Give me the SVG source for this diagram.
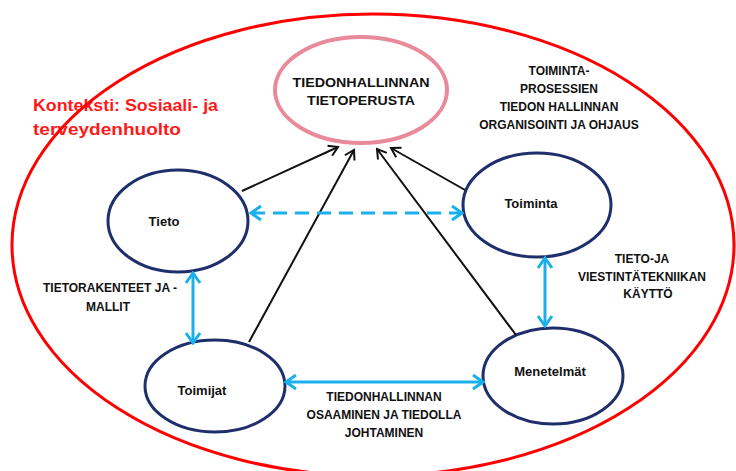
<svg xmlns="http://www.w3.org/2000/svg" width="736" height="471" viewBox="0 0 736 471">
<style>
.node{fill:#fff;stroke:#1f2f6b;stroke-width:3}
.lbl{font-family:"Liberation Sans",Arial,sans-serif;font-weight:bold;font-size:12px;fill:#111;text-anchor:middle}
.nl{font-family:"Liberation Sans",Arial,sans-serif;font-weight:bold;font-size:13px;fill:#111;text-anchor:middle}
.ctx{font-family:"Liberation Sans",Arial,sans-serif;font-weight:bold;font-size:17px;fill:#ff1a1a}
.blk{stroke:#111;stroke-width:2;fill:none;marker-end:url(#ak)}
.blu{stroke:#19b0ec;stroke-width:3;fill:none;marker-start:url(#ab);marker-end:url(#ab)}
</style>
<defs>
<marker id="ak" viewBox="-12 -8 14 16" markerWidth="14" markerHeight="16" refX="0" refY="0" orient="auto" markerUnits="userSpaceOnUse">
<path d="M-9,-5.5 L0,0 L-9,5.5" fill="none" stroke="#111" stroke-width="2"/>
</marker>
<marker id="ab" viewBox="-14 -10 16 20" markerWidth="16" markerHeight="20" refX="0" refY="0" orient="auto-start-reverse" markerUnits="userSpaceOnUse">
<path d="M-10,-7 L0,0 L-10,7" fill="none" stroke="#19b0ec" stroke-width="3"/>
</marker>
</defs>
<rect width="736" height="471" fill="#fff"/>
<g id="context-label">
<text class="ctx" x="33" y="111" textLength="185" lengthAdjust="spacingAndGlyphs">Konteksti: Sosiaali- ja</text>
<text class="ctx" x="33" y="135" textLength="148" lengthAdjust="spacingAndGlyphs">terveydenhuolto</text>
</g>
<g id="context">
<ellipse cx="373" cy="245" rx="361" ry="231" fill="none" stroke="#ff0000" stroke-width="3"/>
</g>
<g id="tietoperusta">
<ellipse cx="361" cy="90" rx="86" ry="53" fill="#fff" stroke="#e8899c" stroke-width="4"/>
<text class="lbl" x="361" y="87" style="font-size:13px" textLength="137" lengthAdjust="spacingAndGlyphs">TIEDONHALLINNAN</text>
<text class="lbl" x="361" y="105" style="font-size:13px" textLength="108" lengthAdjust="spacingAndGlyphs">TIETOPERUSTA</text>
</g>
<g id="tieto">
<ellipse class="node" cx="178" cy="221" rx="70" ry="51"/>
<text class="nl" x="164" y="226">Tieto</text>
</g>
<g id="toiminta">
<ellipse class="node" cx="537" cy="205" rx="74" ry="52"/>
<text class="nl" x="531" y="208">Toiminta</text>
</g>
<g id="toimijat">
<ellipse class="node" cx="215" cy="386" rx="70" ry="46"/>
<text class="nl" x="202" y="395">Toimijat</text>
</g>
<g id="menetelmat">
<ellipse class="node" cx="553" cy="376" rx="70" ry="48"/>
<text class="nl" x="550" y="376">Menetelmät</text>
</g>
<g id="connectors">
<line class="blk" x1="242" y1="191" x2="338" y2="147"/>
<line class="blk" x1="249" y1="342" x2="354" y2="150"/>
<line class="blk" x1="516" y1="335" x2="377" y2="149"/>
<line class="blk" x1="465" y1="190" x2="391" y2="148"/>
<line class="blu" x1="251" y1="213" x2="462" y2="213" stroke-dasharray="14 8"/>
<line class="blu" x1="193" y1="273" x2="193" y2="343"/>
<line class="blu" x1="545" y1="258" x2="545" y2="326"/>
<line class="blu" x1="286" y1="382" x2="483" y2="382"/>
</g>
<g id="labels">
<text class="lbl" x="559" y="75">TOIMINTA-</text>
<text class="lbl" x="559" y="93">PROSESSIEN</text>
<text class="lbl" x="559" y="111">TIEDON HALLINNAN</text>
<text class="lbl" x="559" y="129">ORGANISOINTI JA OHJAUS</text>
<text class="lbl" x="110" y="292">TIETORAKENTEET JA -</text>
<text class="lbl" x="108" y="311">MALLIT</text>
<text class="lbl" x="642" y="263">TIETO-JA</text>
<text class="lbl" x="642" y="281">VIESTINTÄTEKNIIKAN</text>
<text class="lbl" x="648" y="298">KÄYTTÖ</text>
<text class="lbl" x="384" y="401">TIEDONHALLINNAN</text>
<text class="lbl" x="384" y="419">OSAAMINEN JA TIEDOLLA</text>
<text class="lbl" x="384" y="437">JOHTAMINEN</text>
</g>
</svg>
